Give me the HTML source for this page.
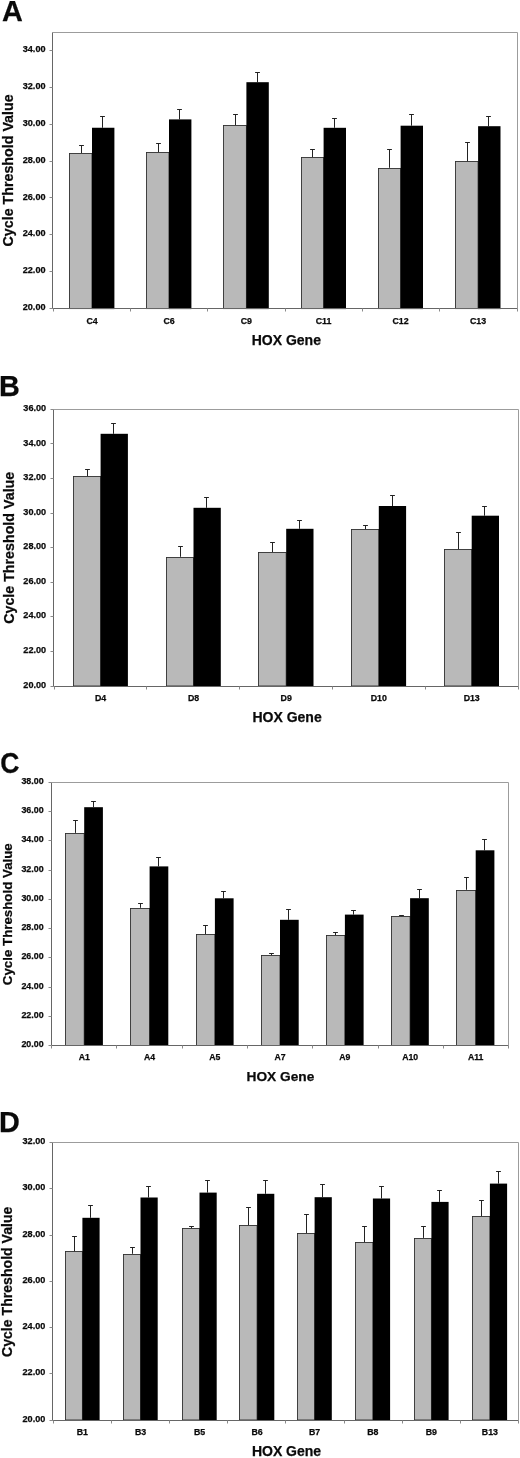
<!DOCTYPE html>
<html><head><meta charset="utf-8"><title>HOX gene cycle threshold values</title>
<style>
html,body{margin:0;padding:0;background:#fff;}
body{width:520px;height:1458px;overflow:hidden;}
svg{display:block;filter:grayscale(1);}
text{font-family:"Liberation Sans", sans-serif;font-weight:bold;fill:#0a0a0a;stroke:#0a0a0a;stroke-width:0.25px;}
.tk{text-anchor:end;}
.ct{text-anchor:middle;}
.al{text-anchor:middle;}
</style></head><body>
<svg width="520" height="1458" viewBox="0 0 520 1458">
<rect x="0" y="0" width="520" height="1458" fill="#fff"/>
<!-- panel A -->
<g>
<text x="2.1" y="20.9" font-size="28.8">A</text>
<path d="M52.5 32.5H517.5V308.5" fill="none" stroke="#9c9c9c" stroke-width="1"/>
<path d="M81.5 153V145.5M79.1 145.5H83.9" stroke="#222" stroke-width="1" fill="none"/>
<path d="M102.5 127.75V116.5M100.1 116.5H104.9" stroke="#222" stroke-width="1" fill="none"/>
<rect x="69.5" y="153.5" width="22.5" height="155.1" fill="#b9b9b9" stroke="#303030" stroke-width="0.9"/>
<rect x="92" y="127.75" width="22.4" height="181.35" fill="#000"/>
<path d="M158.5 152V143.5M156.1 143.5H160.9" stroke="#222" stroke-width="1" fill="none"/>
<path d="M179.5 119.4V109.5M177.1 109.5H181.9" stroke="#222" stroke-width="1" fill="none"/>
<rect x="146.5" y="152.5" width="22.5" height="156.1" fill="#b9b9b9" stroke="#303030" stroke-width="0.9"/>
<rect x="169" y="119.4" width="22.4" height="189.7" fill="#000"/>
<path d="M235.5 125.2V114.5M233.1 114.5H237.9" stroke="#222" stroke-width="1" fill="none"/>
<path d="M257.5 82.2V72.5M255.1 72.5H259.9" stroke="#222" stroke-width="1" fill="none"/>
<rect x="223.5" y="125.5" width="22.9" height="183.1" fill="#b9b9b9" stroke="#303030" stroke-width="0.9"/>
<rect x="246.4" y="82.2" width="22.4" height="226.9" fill="#000"/>
<path d="M312.5 157.4V149.5M310.1 149.5H314.9" stroke="#222" stroke-width="1" fill="none"/>
<path d="M334.5 127.8V118.5M332.1 118.5H336.9" stroke="#222" stroke-width="1" fill="none"/>
<rect x="301.5" y="157.5" width="22.1" height="151.1" fill="#b9b9b9" stroke="#303030" stroke-width="0.9"/>
<rect x="323.6" y="127.8" width="22.4" height="181.3" fill="#000"/>
<path d="M389.5 167.8V149.5M387.1 149.5H391.9" stroke="#222" stroke-width="1" fill="none"/>
<path d="M411.5 125.7V114.5M409.1 114.5H413.9" stroke="#222" stroke-width="1" fill="none"/>
<rect x="378.5" y="168.5" width="22.1" height="140.1" fill="#b9b9b9" stroke="#303030" stroke-width="0.9"/>
<rect x="400.6" y="125.7" width="22.4" height="183.4" fill="#000"/>
<path d="M467.5 161.5V142.5M465.1 142.5H469.9" stroke="#222" stroke-width="1" fill="none"/>
<path d="M488.5 126.2V116.5M486.1 116.5H490.9" stroke="#222" stroke-width="1" fill="none"/>
<rect x="455.5" y="161.5" width="22.6" height="147.1" fill="#b9b9b9" stroke="#303030" stroke-width="0.9"/>
<rect x="478.1" y="126.2" width="22.4" height="182.9" fill="#000"/>
<path d="M52.5 32.5V308.5H517.5" fill="none" stroke="#666" stroke-width="1"/>
<path d="M49.5 308.5H52.5M49.5 271.5H52.5M49.5 234.5H52.5M49.5 197.5H52.5M49.5 161.5H52.5M49.5 124.5H52.5M49.5 87.5H52.5M49.5 50.5H52.5" stroke="#8a8a8a" stroke-width="1" fill="none"/>
<path d="M53.5 308.5V311.5M130.5 308.5V311.5M207.5 308.5V311.5M285.5 308.5V311.5M362.5 308.5V311.5M439.5 308.5V311.5M517.5 308.5V311.5" stroke="#8a8a8a" stroke-width="1" fill="none"/>
<text class="tk" x="45.5" y="310.26" font-size="9.1">20.00</text>
<text class="tk" x="45.5" y="273.36" font-size="9.1">22.00</text>
<text class="tk" x="45.5" y="236.46" font-size="9.1">24.00</text>
<text class="tk" x="45.5" y="199.56" font-size="9.1">26.00</text>
<text class="tk" x="45.5" y="162.66" font-size="9.1">28.00</text>
<text class="tk" x="45.5" y="125.76" font-size="9.1">30.00</text>
<text class="tk" x="45.5" y="88.86" font-size="9.1">32.00</text>
<text class="tk" x="45.5" y="51.96" font-size="9.1">34.00</text>
<text class="ct" x="92" y="323.7" font-size="8.8">C4</text>
<text class="ct" x="169" y="323.7" font-size="8.8">C6</text>
<text class="ct" x="246.4" y="323.7" font-size="8.8">C9</text>
<text class="ct" x="323.6" y="323.7" font-size="8.8">C11</text>
<text class="ct" x="400.6" y="323.7" font-size="8.8">C12</text>
<text class="ct" x="478.1" y="323.7" font-size="8.8">C13</text>
<text class="al" x="286.3" y="345.4" font-size="14">HOX Gene</text>
<text class="al" transform="translate(13 170.4) rotate(-90)" font-size="14.25">Cycle Threshold Value</text>
</g>
<!-- panel B -->
<g>
<text x="-1.1" y="395.8" font-size="28.8">B</text>
<path d="M53.5 409.5H518.5V686.5" fill="none" stroke="#9c9c9c" stroke-width="1"/>
<path d="M87.5 476.3V469.5M85.1 469.5H89.9" stroke="#222" stroke-width="1" fill="none"/>
<path d="M113.5 433.8V423.5M111.1 423.5H115.9" stroke="#222" stroke-width="1" fill="none"/>
<rect x="73.5" y="476.5" width="27.1" height="209.5" fill="#b9b9b9" stroke="#303030" stroke-width="0.9"/>
<rect x="100.6" y="433.8" width="27.3" height="252.7" fill="#000"/>
<path d="M180.5 556.8V546.5M178.1 546.5H182.9" stroke="#222" stroke-width="1" fill="none"/>
<path d="M206.5 507.8V497.5M204.1 497.5H208.9" stroke="#222" stroke-width="1" fill="none"/>
<rect x="166.5" y="557.5" width="27" height="128.5" fill="#b9b9b9" stroke="#303030" stroke-width="0.9"/>
<rect x="193.5" y="507.8" width="27.3" height="178.7" fill="#000"/>
<path d="M272.5 552.2V542.5M270.1 542.5H274.9" stroke="#222" stroke-width="1" fill="none"/>
<path d="M299.5 528.8V520.5M297.1 520.5H301.9" stroke="#222" stroke-width="1" fill="none"/>
<rect x="258.5" y="552.5" width="27.7" height="133.5" fill="#b9b9b9" stroke="#303030" stroke-width="0.9"/>
<rect x="286.2" y="528.8" width="27.3" height="157.7" fill="#000"/>
<path d="M365.5 529.7V525.5M363.1 525.5H367.9" stroke="#222" stroke-width="1" fill="none"/>
<path d="M392.5 506V495.5M390.1 495.5H394.9" stroke="#222" stroke-width="1" fill="none"/>
<rect x="351.5" y="529.5" width="27.3" height="156.5" fill="#b9b9b9" stroke="#303030" stroke-width="0.9"/>
<rect x="378.8" y="506" width="27.3" height="180.5" fill="#000"/>
<path d="M458.5 549.4V532.5M456.1 532.5H460.9" stroke="#222" stroke-width="1" fill="none"/>
<path d="M484.5 515.7V506.5M482.1 506.5H486.9" stroke="#222" stroke-width="1" fill="none"/>
<rect x="444.5" y="549.5" width="27.2" height="136.5" fill="#b9b9b9" stroke="#303030" stroke-width="0.9"/>
<rect x="471.7" y="515.7" width="27.3" height="170.8" fill="#000"/>
<path d="M53.5 409.5V686.5H518.5" fill="none" stroke="#666" stroke-width="1"/>
<path d="M50.5 686.5H53.5M50.5 651.5H53.5M50.5 616.5H53.5M50.5 582.5H53.5M50.5 547.5H53.5M50.5 513.5H53.5M50.5 478.5H53.5M50.5 443.5H53.5M50.5 409.5H53.5" stroke="#8a8a8a" stroke-width="1" fill="none"/>
<path d="M54.5 686.5V689.5M146.5 686.5V689.5M239.5 686.5V689.5M332.5 686.5V689.5M425.5 686.5V689.5M518.5 686.5V689.5" stroke="#8a8a8a" stroke-width="1" fill="none"/>
<text class="tk" x="46.1" y="687.66" font-size="9.1">20.00</text>
<text class="tk" x="46.1" y="653.07" font-size="9.1">22.00</text>
<text class="tk" x="46.1" y="618.48" font-size="9.1">24.00</text>
<text class="tk" x="46.1" y="583.89" font-size="9.1">26.00</text>
<text class="tk" x="46.1" y="549.31" font-size="9.1">28.00</text>
<text class="tk" x="46.1" y="514.72" font-size="9.1">30.00</text>
<text class="tk" x="46.1" y="480.13" font-size="9.1">32.00</text>
<text class="tk" x="46.1" y="445.54" font-size="9.1">34.00</text>
<text class="tk" x="46.1" y="410.95" font-size="9.1">36.00</text>
<text class="ct" x="100.6" y="700.6" font-size="8.8">D4</text>
<text class="ct" x="193.5" y="700.6" font-size="8.8">D8</text>
<text class="ct" x="286.2" y="700.6" font-size="8.8">D9</text>
<text class="ct" x="378.8" y="700.6" font-size="8.8">D10</text>
<text class="ct" x="471.7" y="700.6" font-size="8.8">D13</text>
<text class="al" x="287.1" y="722.4" font-size="14">HOX Gene</text>
<text class="al" transform="translate(14.2 547.8) rotate(-90)" font-size="14.25">Cycle Threshold Value</text>
</g>
<!-- panel C -->
<g>
<text transform="translate(0.2 773.4) scale(0.92 1.04)" font-size="28.8">C</text>
<path d="M51.5 782.5H508.5V1045.5" fill="none" stroke="#9c9c9c" stroke-width="1"/>
<path d="M75.5 832.9V820.5M73.1 820.5H77.9" stroke="#222" stroke-width="1" fill="none"/>
<path d="M93.5 807.2V801.5M91.1 801.5H95.9" stroke="#222" stroke-width="1" fill="none"/>
<rect x="65.5" y="833.5" width="18.7" height="212" fill="#b9b9b9" stroke="#303030" stroke-width="0.9"/>
<rect x="84.2" y="807.2" width="18.7" height="238.8" fill="#000"/>
<path d="M140.5 907.8V903.5M138.1 903.5H142.9" stroke="#222" stroke-width="1" fill="none"/>
<path d="M158.5 866.4V857.5M156.1 857.5H160.9" stroke="#222" stroke-width="1" fill="none"/>
<rect x="130.5" y="908.5" width="19.1" height="137" fill="#b9b9b9" stroke="#303030" stroke-width="0.9"/>
<rect x="149.6" y="866.4" width="18.7" height="179.6" fill="#000"/>
<path d="M205.5 934.3V925.5M203.1 925.5H207.9" stroke="#222" stroke-width="1" fill="none"/>
<path d="M223.5 898.3V891.5M221.1 891.5H225.9" stroke="#222" stroke-width="1" fill="none"/>
<rect x="196.5" y="934.5" width="18.4" height="111" fill="#b9b9b9" stroke="#303030" stroke-width="0.9"/>
<rect x="214.9" y="898.3" width="18.7" height="147.7" fill="#000"/>
<path d="M271.5 955.2V953.5M269.1 953.5H273.9" stroke="#222" stroke-width="1" fill="none"/>
<path d="M288.5 919.8V909.5M286.1 909.5H290.9" stroke="#222" stroke-width="1" fill="none"/>
<rect x="261.5" y="955.5" width="18.5" height="90" fill="#b9b9b9" stroke="#303030" stroke-width="0.9"/>
<rect x="280" y="919.8" width="18.7" height="126.2" fill="#000"/>
<path d="M335.5 935.5V932.5M333.1 932.5H337.9" stroke="#222" stroke-width="1" fill="none"/>
<path d="M353.5 914.6V910.5M351.1 910.5H355.9" stroke="#222" stroke-width="1" fill="none"/>
<rect x="326.5" y="935.5" width="18.4" height="110" fill="#b9b9b9" stroke="#303030" stroke-width="0.9"/>
<rect x="344.9" y="914.6" width="18.7" height="131.4" fill="#000"/>
<path d="M401.5 916.6V915.5M399.1 915.5H403.9" stroke="#222" stroke-width="1" fill="none"/>
<path d="M419.5 898.2V889.5M417.1 889.5H421.9" stroke="#222" stroke-width="1" fill="none"/>
<rect x="391.5" y="916.5" width="18.6" height="129" fill="#b9b9b9" stroke="#303030" stroke-width="0.9"/>
<rect x="410.1" y="898.2" width="18.7" height="147.8" fill="#000"/>
<path d="M466.5 889.8V877.5M464.1 877.5H468.9" stroke="#222" stroke-width="1" fill="none"/>
<path d="M484.5 850.3V839.5M482.1 839.5H486.9" stroke="#222" stroke-width="1" fill="none"/>
<rect x="456.5" y="890.5" width="19.2" height="155" fill="#b9b9b9" stroke="#303030" stroke-width="0.9"/>
<rect x="475.7" y="850.3" width="18.7" height="195.7" fill="#000"/>
<path d="M51.5 782.5V1045.5H508.5" fill="none" stroke="#666" stroke-width="1"/>
<path d="M48.5 1045.5H51.5M48.5 1016.5H51.5M48.5 987.5H51.5M48.5 957.5H51.5M48.5 928.5H51.5M48.5 899.5H51.5M48.5 870.5H51.5M48.5 840.5H51.5M48.5 811.5H51.5M48.5 782.5H51.5" stroke="#8a8a8a" stroke-width="1" fill="none"/>
<path d="M51.5 1045.5V1048.5M116.5 1045.5V1048.5M182.5 1045.5V1048.5M247.5 1045.5V1048.5M312.5 1045.5V1048.5M378.5 1045.5V1048.5M443.5 1045.5V1048.5M508.5 1045.5V1048.5" stroke="#8a8a8a" stroke-width="1" fill="none"/>
<text class="tk" x="43.6" y="1047.09" font-size="8.9">20.00</text>
<text class="tk" x="43.6" y="1017.84" font-size="8.9">22.00</text>
<text class="tk" x="43.6" y="988.6" font-size="8.9">24.00</text>
<text class="tk" x="43.6" y="959.35" font-size="8.9">26.00</text>
<text class="tk" x="43.6" y="930.11" font-size="8.9">28.00</text>
<text class="tk" x="43.6" y="900.87" font-size="8.9">30.00</text>
<text class="tk" x="43.6" y="871.62" font-size="8.9">32.00</text>
<text class="tk" x="43.6" y="842.38" font-size="8.9">34.00</text>
<text class="tk" x="43.6" y="813.13" font-size="8.9">36.00</text>
<text class="tk" x="43.6" y="783.89" font-size="8.9">38.00</text>
<text class="ct" x="84.2" y="1060" font-size="8.7">A1</text>
<text class="ct" x="149.6" y="1060" font-size="8.7">A4</text>
<text class="ct" x="214.9" y="1060" font-size="8.7">A5</text>
<text class="ct" x="280" y="1060" font-size="8.7">A7</text>
<text class="ct" x="344.9" y="1060" font-size="8.7">A9</text>
<text class="ct" x="410.1" y="1060" font-size="8.7">A10</text>
<text class="ct" x="475.7" y="1060" font-size="8.7">A11</text>
<text class="al" x="280.4" y="1080.6" font-size="13.7">HOX Gene</text>
<text class="al" transform="translate(11.8 914.2) rotate(-90)" font-size="13.3">Cycle Threshold Value</text>
</g>
<!-- panel D -->
<g>
<text x="-1.1" y="1131.8" font-size="28.8">D</text>
<path d="M52.5 1142.5H518.5V1420.5" fill="none" stroke="#9c9c9c" stroke-width="1"/>
<path d="M74.5 1251.7V1236.5M72.1 1236.5H76.9" stroke="#222" stroke-width="1" fill="none"/>
<path d="M90.5 1217.8V1205.5M88.1 1205.5H92.9" stroke="#222" stroke-width="1" fill="none"/>
<rect x="65.5" y="1251.5" width="16.9" height="168.5" fill="#b9b9b9" stroke="#303030" stroke-width="0.9"/>
<rect x="82.4" y="1217.8" width="17.2" height="202.7" fill="#000"/>
<path d="M132.5 1253.8V1247.5M130.1 1247.5H134.9" stroke="#222" stroke-width="1" fill="none"/>
<path d="M148.5 1197.5V1186.5M146.1 1186.5H150.9" stroke="#222" stroke-width="1" fill="none"/>
<rect x="123.5" y="1254.5" width="17" height="165.5" fill="#b9b9b9" stroke="#303030" stroke-width="0.9"/>
<rect x="140.5" y="1197.5" width="17.2" height="223" fill="#000"/>
<path d="M191.5 1228.3V1226.5M189.1 1226.5H193.9" stroke="#222" stroke-width="1" fill="none"/>
<path d="M207.5 1192.6V1180.5M205.1 1180.5H209.9" stroke="#222" stroke-width="1" fill="none"/>
<rect x="182.5" y="1228.5" width="17" height="191.5" fill="#b9b9b9" stroke="#303030" stroke-width="0.9"/>
<rect x="199.5" y="1192.6" width="17.2" height="227.9" fill="#000"/>
<path d="M248.5 1225.5V1207.5M246.1 1207.5H250.9" stroke="#222" stroke-width="1" fill="none"/>
<path d="M265.5 1193.8V1180.5M263.1 1180.5H267.9" stroke="#222" stroke-width="1" fill="none"/>
<rect x="239.5" y="1225.5" width="17.6" height="194.5" fill="#b9b9b9" stroke="#303030" stroke-width="0.9"/>
<rect x="257.1" y="1193.8" width="17.2" height="226.7" fill="#000"/>
<path d="M306.5 1233.2V1214.5M304.1 1214.5H308.9" stroke="#222" stroke-width="1" fill="none"/>
<path d="M322.5 1197.2V1184.5M320.1 1184.5H324.9" stroke="#222" stroke-width="1" fill="none"/>
<rect x="297.5" y="1233.5" width="17.1" height="186.5" fill="#b9b9b9" stroke="#303030" stroke-width="0.9"/>
<rect x="314.6" y="1197.2" width="17.2" height="223.3" fill="#000"/>
<path d="M364.5 1242.4V1226.5M362.1 1226.5H366.9" stroke="#222" stroke-width="1" fill="none"/>
<path d="M381.5 1198.5V1186.5M379.1 1186.5H383.9" stroke="#222" stroke-width="1" fill="none"/>
<rect x="355.5" y="1242.5" width="17.4" height="177.5" fill="#b9b9b9" stroke="#303030" stroke-width="0.9"/>
<rect x="372.9" y="1198.5" width="17.2" height="222" fill="#000"/>
<path d="M423.5 1237.9V1226.5M421.1 1226.5H425.9" stroke="#222" stroke-width="1" fill="none"/>
<path d="M439.5 1201.9V1190.5M437.1 1190.5H441.9" stroke="#222" stroke-width="1" fill="none"/>
<rect x="414.5" y="1238.5" width="16.9" height="181.5" fill="#b9b9b9" stroke="#303030" stroke-width="0.9"/>
<rect x="431.4" y="1201.9" width="17.2" height="218.6" fill="#000"/>
<path d="M481.5 1216.5V1200.5M479.1 1200.5H483.9" stroke="#222" stroke-width="1" fill="none"/>
<path d="M498.5 1183.6V1171.5M496.1 1171.5H500.9" stroke="#222" stroke-width="1" fill="none"/>
<rect x="472.5" y="1216.5" width="17.4" height="203.5" fill="#b9b9b9" stroke="#303030" stroke-width="0.9"/>
<rect x="489.9" y="1183.6" width="17.2" height="236.9" fill="#000"/>
<path d="M52.5 1142.5V1420.5H518.5" fill="none" stroke="#666" stroke-width="1"/>
<path d="M49.5 1420.5H52.5M49.5 1373.5H52.5M49.5 1327.5H52.5M49.5 1281.5H52.5M49.5 1235.5H52.5M49.5 1188.5H52.5M49.5 1142.5H52.5" stroke="#8a8a8a" stroke-width="1" fill="none"/>
<path d="M53.5 1420.5V1423.5M111.5 1420.5V1423.5M169.5 1420.5V1423.5M227.5 1420.5V1423.5M285.5 1420.5V1423.5M344.5 1420.5V1423.5M402.5 1420.5V1423.5M460.5 1420.5V1423.5M518.5 1420.5V1423.5" stroke="#8a8a8a" stroke-width="1" fill="none"/>
<text class="tk" x="45.3" y="1421.66" font-size="9.1">20.00</text>
<text class="tk" x="45.3" y="1375.41" font-size="9.1">22.00</text>
<text class="tk" x="45.3" y="1329.16" font-size="9.1">24.00</text>
<text class="tk" x="45.3" y="1282.91" font-size="9.1">26.00</text>
<text class="tk" x="45.3" y="1236.66" font-size="9.1">28.00</text>
<text class="tk" x="45.3" y="1190.41" font-size="9.1">30.00</text>
<text class="tk" x="45.3" y="1144.16" font-size="9.1">32.00</text>
<text class="ct" x="82.4" y="1434.7" font-size="8.8">B1</text>
<text class="ct" x="140.5" y="1434.7" font-size="8.8">B3</text>
<text class="ct" x="199.5" y="1434.7" font-size="8.8">B5</text>
<text class="ct" x="257.1" y="1434.7" font-size="8.8">B6</text>
<text class="ct" x="314.6" y="1434.7" font-size="8.8">B7</text>
<text class="ct" x="372.9" y="1434.7" font-size="8.8">B8</text>
<text class="ct" x="431.4" y="1434.7" font-size="8.8">B9</text>
<text class="ct" x="489.9" y="1434.7" font-size="8.8">B13</text>
<text class="al" x="286.5" y="1456.2" font-size="14">HOX Gene</text>
<text class="al" transform="translate(12.1 1281.8) rotate(-90)" font-size="14.1">Cycle Threshold Value</text>
</g>
</svg>
</body></html>
